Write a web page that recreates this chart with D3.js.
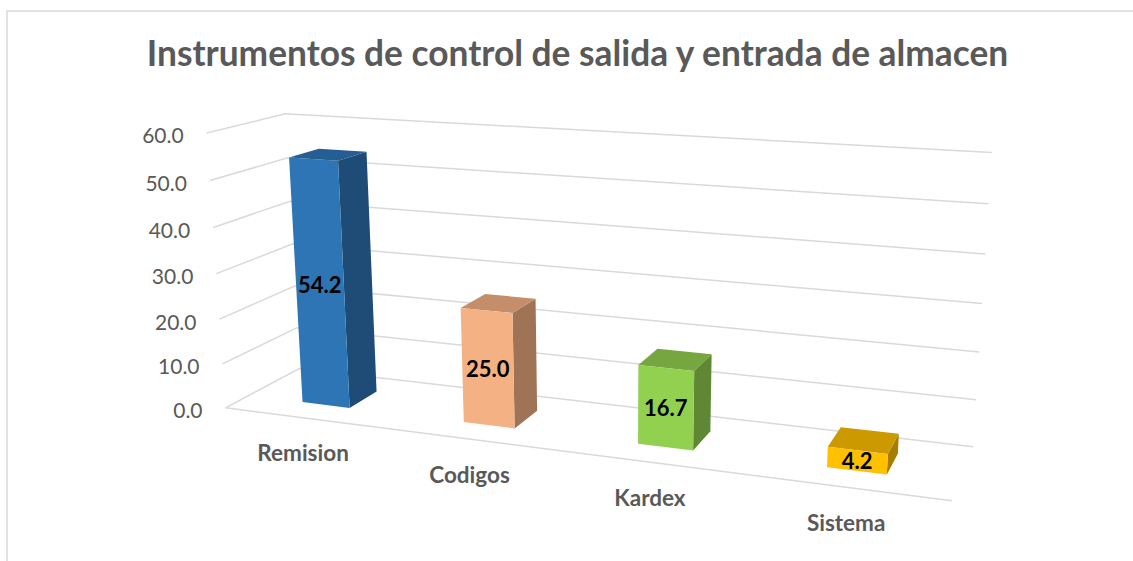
<!DOCTYPE html>
<html><head><meta charset="utf-8">
<script src="https://cdn.jsdelivr.net/npm/d3@7"></script>
<style>body{margin:0;background:#fff;} svg{display:block;font-family:Lato,'Open Sans',sans-serif;}</style>
</head><body><svg id="chart" width="1133" height="561"></svg>
<script>
const categories = ["Remision","Codigos","Kardex","Sistema"];
const values = [54.2, 25.0, 16.7, 4.2];
const yTicks = [0,10,20,30,40,50,60];
const tickLabels = ["0.0","10.0","20.0","30.0","40.0","50.0","60.0"];
const barColors = ["#2E75B6","#F4B183","#92D050","#FFC000"];
const title = "Instrumentos de control de salida y entrada de almacen";

const svg = d3.select("#chart");

// 3D perspective camera (world: x 0..4 across categories, y 0..1 value, z 0..1 depth)
const CAM = [0.3289008, -0.01071052, 0.1143705, -0.5488730,
             0.03123407, -0.5344237, -0.06716385, 0.2156978,
             -0.03787760, -0.04614603, 0.08258849];
function project(X,Y,Z){
  const w = CAM[8]*X + CAM[9]*Y + CAM[10]*Z + 1;
  return [500 + 500*(CAM[0]*X + CAM[1]*Y + CAM[2]*Z + CAM[3])/w,
          300 + 500*(CAM[4]*X + CAM[5]*Y + CAM[6]*Z + CAM[7])/w];
}
const BAR_W = 0.3, BAR_Z0 = 0.3, BAR_Z1 = 0.7;

const yScale = d3.scaleLinear().domain([0,60]).range([0,1]);
const xBand = d3.scaleBand().domain(categories).range([0,4])
  .paddingInner(1-BAR_W).paddingOuter((1-BAR_W)/2);

// chart frame
svg.append("rect").attr("x",7).attr("y",11).attr("width",1200).attr("height",600)
  .attr("fill","none").attr("stroke","#d9d9d9").attr("stroke-width",1.5);

// gridlines (side wall + back wall) and floor front edge
const line = d3.line();
const gGrid = svg.append("g").attr("fill","none").attr("stroke","#d9d9d9").attr("stroke-width",1.5);
yTicks.forEach(t=>{
  const y = yScale(t);
  gGrid.append("path").attr("d", line([project(0,y,0), project(0,y,1), project(4,y,1)]));
});
gGrid.append("path").attr("d", line([project(0,0,0), project(4,0,0)]));

// value axis labels
yTicks.forEach((t,i)=>{
  const p = project(0, yScale(t), 0);
  svg.append("text").attr("x",p[0]-23).attr("y",p[1]+2)
    .attr("text-anchor","end").attr("dominant-baseline","central")
    .attr("font-size",21).attr("fill","#595959").text(tickLabels[i]);
});

// bars
const shade = (c,k)=>{const r=d3.rgb(c);return d3.rgb(r.r*k,r.g*k,r.b*k).formatHex();};
function area(pts){let s=0;for(let i=0;i<pts.length;i++){const a=pts[i],b=pts[(i+1)%pts.length];s+=a[0]*b[1]-b[0]*a[1];}return s;}
categories.forEach((c,i)=>{
  const x0 = xBand(c), x1 = x0 + xBand.bandwidth(), y0 = 0, y1 = yScale(values[i]);
  const z0 = BAR_Z0, z1 = BAR_Z1;
  const faces = {
    left:  {v:[[x0,y0,z1],[x0,y0,z0],[x0,y1,z0],[x0,y1,z1]], k:0.65},
    right: {v:[[x1,y0,z0],[x1,y0,z1],[x1,y1,z1],[x1,y1,z0]], k:0.65},
    top:   {v:[[x0,y1,z0],[x1,y1,z0],[x1,y1,z1],[x0,y1,z1]], k:0.8},
    front: {v:[[x0,y0,z0],[x1,y0,z0],[x1,y1,z0],[x0,y1,z0]], k:1}
  };
  const fs = Math.sign(area(faces.front.v.map(p=>project(...p))));
  const g = svg.append("g");
  Object.keys(faces).forEach(name=>{
    const pp = faces[name].v.map(p=>project(...p));
    if (Math.sign(area(pp)) !== fs) return;
    g.append("path").attr("d", line(pp)+"Z").attr("fill", shade(barColors[i], faces[name].k));
  });
  const xm = x0 + xBand.bandwidth()/2;
  const lp = project(xm, y1/2, z0);
  svg.append("text").attr("x",lp[0]).attr("y",lp[1])
    .attr("text-anchor","middle").attr("dominant-baseline","central")
    .attr("font-size",22).attr("font-weight","bold").attr("fill","#000")
    .text(values[i].toFixed(1));
  const cp = project(xm, 0, 0);
  svg.append("text").attr("x",cp[0]-1).attr("y",cp[1]+35)
    .attr("text-anchor","middle").attr("dominant-baseline","central")
    .attr("font-size",22.5).attr("font-weight","bold").attr("fill","#595959").text(c);
});

// title
svg.append("text").attr("x",577.5).attr("y",66).attr("text-anchor","middle")
  .attr("font-size",35.3).attr("font-weight","bold").attr("fill","#595959").text(title);
</script></body></html>
